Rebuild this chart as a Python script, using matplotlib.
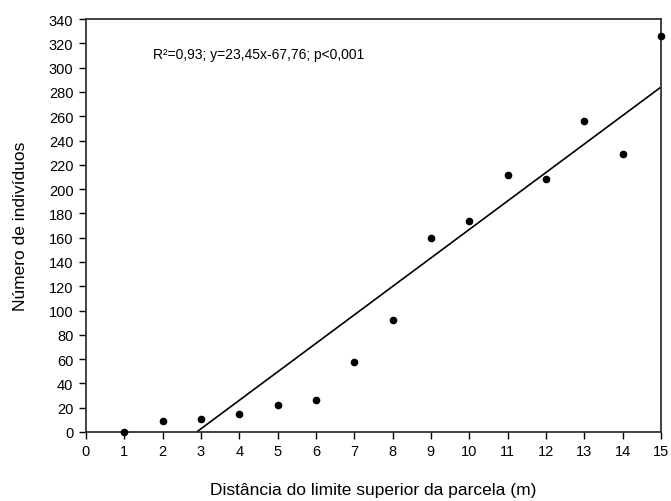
import matplotlib
matplotlib.use("Agg")
import matplotlib.pyplot as plt
import numpy as np

plt.rcParams['font.family'] = ['Liberation Sans', 'DejaVu Sans']

# distance from the upper edge of the plot (m) and number of individuals
dist = [1, 2, 3, 4, 5, 6, 7, 8, 9, 10, 11, 12, 13, 14, 15]
n_ind = [0, 9, 11, 15, 22, 26, 58, 92, 160, 174, 212, 208, 256, 229, 326]

# linear fit reported on the chart
slope = 23.45
intercept = -67.76

fig = plt.figure(figsize=(6.71, 5.02), dpi=100)
ax = fig.add_axes([0.128, 0.1375, 0.857, 0.8225])

x0 = -intercept / slope
xl = np.array([x0, 15])
ax.plot(xl, slope * xl + intercept, color="black", lw=1.2)
ax.plot(dist, n_ind, "o", color="black", ms=4.5, clip_on=False, zorder=5)

ax.set_xlim(0, 15)
ax.set_ylim(0, 340)
ax.set_xticks(range(0, 16))
ax.set_yticks(range(0, 341, 20))
ax.tick_params(direction="out", length=5, width=1, labelsize=10.5, pad=4)
for s in ax.spines.values():
    s.set_linewidth(1.3)
    s.set_color("#333333")

ax.text(1.75, 311, "R²=0,93; y=23,45x-67,76; p<0,001", fontsize=10, va="center")

ax.set_xlabel("Distância do limite superior da parcela (m)", fontsize=12.5, labelpad=17)
ax.set_ylabel("Número de indivíduos", fontsize=12.5, labelpad=15)

fig.savefig("out.png", dpi=100)
